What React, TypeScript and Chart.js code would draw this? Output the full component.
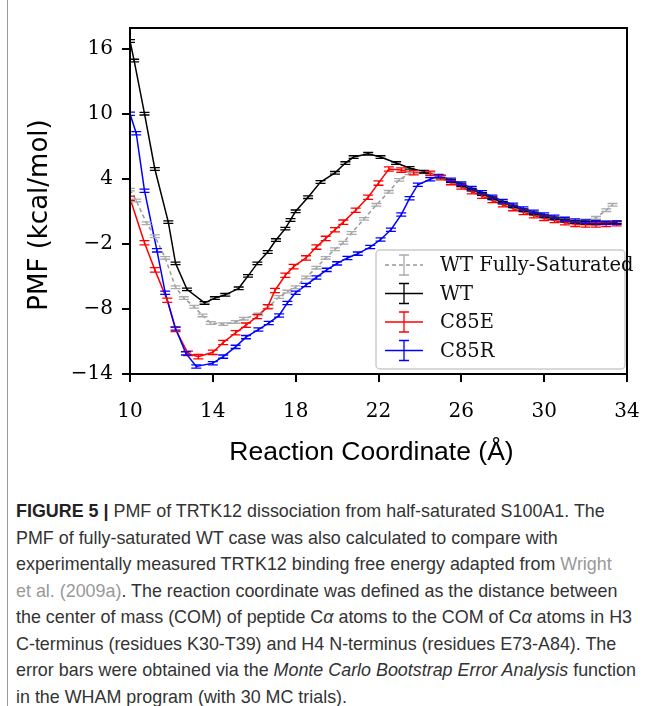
import React, { useEffect, useRef } from "react";
import { Chart, registerables } from "chart.js";
Chart.register(...registerables);

// ---- Data ----
const xTicks = [10, 14, 18, 22, 26, 30, 34];
const yTicks = [16, 10, 4, -2, -8, -14];

const xTitle = "Reaction Coordinate (\u00c5)";
const yTitle = "PMF (kcal/mol)";

const seriesNames = ["WT Fully-Saturated", "WT", "C85E", "C85R"];
const seriesColors = ["#999999", "#000000", "#ff0000", "#0000ff"];
const seriesErr = [0.12, 0.12, 0.2, 0.15];

const wtFullX = [10.0, 10.3, 10.8, 11.2, 11.7, 12.2, 12.6, 13.1, 13.5, 13.9, 14.5, 15.1, 15.5, 16.2, 16.7, 17.2, 17.6, 18.0, 18.5, 19.0, 19.45, 19.9, 20.3, 20.7, 21.3, 21.9, 22.5, 23.0, 23.5, 24.0, 24.5, 25.0, 25.5, 26.0, 26.5, 27.0, 27.5, 28.0, 28.5, 29.0, 29.5, 30.0, 30.5, 31.0, 31.5, 32.0, 32.5, 33.0, 33.3];
const wtFullY = [3.0, 2.0, -0.1, -1.3, -3.3, -6.0, -7.0, -7.8, -8.6, -9.3, -9.4, -9.2, -8.9, -8.5, -7.8, -6.9, -6.4, -6.0, -5.1, -4.2, -3.3, -2.5, -1.9, -1.0, 0.3, 1.6, 2.8, 3.9, 4.5, 4.6, 4.5, 4.15, 3.75, 3.4, 3.0, 2.6, 2.2, 1.8, 1.45, 1.1, 0.8, 0.55, 0.35, 0.2, 0.1, 0.15, 0.4, 1.1, 1.6];

const wtX = [10.0, 10.2, 10.7, 11.2, 11.85, 12.2, 12.75, 13.6, 14.1, 14.6, 15.25, 15.7, 16.15, 16.65, 17.05, 17.5, 17.75, 18.0, 18.6, 19.2, 19.9, 20.4, 20.8, 21.5, 22.1, 22.85, 23.5, 24.2, 25.0, 25.5, 26.0, 26.5, 27.0, 27.5, 28.0, 28.5, 29.0, 29.5, 30.0, 30.5, 31.0, 31.5, 32.0, 32.5, 33.0, 33.5];
const wtY = [16.7, 14.9, 10.0, 4.9, 0.0, -3.8, -6.2, -7.45, -7.0, -6.7, -6.1, -4.95, -3.8, -2.75, -1.65, -0.6, 0.2, 1.0, 2.3, 3.7, 4.55, 5.45, 6.0, 6.3, 6.0, 5.45, 5.0, 4.65, 4.2, 3.8, 3.4, 3.0, 2.6, 2.2, 1.8, 1.45, 1.1, 0.8, 0.55, 0.35, 0.15, 0.0, -0.05, -0.1, -0.05, 0.0];

const c85eX = [10.0, 10.7, 11.2, 11.8, 12.2, 12.8, 13.3, 14.0, 14.5, 15.1, 15.6, 16.15, 16.65, 17.0, 17.5, 17.9, 18.5, 19.0, 19.45, 19.9, 20.3, 20.9, 21.5, 22.0, 22.5, 23.1, 23.7, 24.5, 25.0, 25.5, 26.0, 26.5, 27.0, 27.5, 28.0, 28.5, 29.0, 29.5, 30.0, 30.5, 31.0, 31.5, 32.0, 32.5, 33.0, 33.5];
const c85eY = [2.2, -1.9, -4.4, -7.2, -9.9, -12.1, -12.4, -12.0, -11.1, -10.2, -9.5, -8.7, -7.8, -6.3, -4.9, -4.1, -3.3, -2.3, -1.5, -0.7, 0.0, 1.1, 2.3, 3.6, 4.9, 4.8, 4.55, 4.5, 4.1, 3.65, 3.25, 2.8, 2.4, 2.0, 1.6, 1.25, 0.9, 0.6, 0.35, 0.15, -0.05, -0.2, -0.25, -0.25, -0.2, -0.15];

const c85rX = [10.0, 10.3, 10.7, 11.3, 11.7, 12.2, 12.7, 13.2, 14.0, 14.5, 15.1, 15.6, 16.2, 16.7, 17.2, 17.6, 18.0, 18.5, 19.0, 19.5, 20.0, 20.5, 21.0, 21.6, 22.1, 22.6, 23.1, 23.5, 23.9, 24.5, 24.9, 25.5, 26.0, 26.5, 27.0, 27.5, 28.0, 28.5, 29.0, 29.5, 30.0, 30.5, 31.0, 31.5, 32.0, 32.5, 33.0, 33.5];
const c85rY = [10.0, 8.2, 2.9, -2.6, -6.5, -9.8, -12.1, -13.3, -13.0, -12.4, -11.5, -10.6, -9.9, -9.3, -8.6, -7.45, -6.5, -5.8, -5.1, -4.4, -3.8, -3.3, -2.9, -2.3, -1.6, -0.7, 0.7, 2.2, 3.45, 3.95, 4.25, 3.9, 3.55, 3.15, 2.75, 2.35, 1.95, 1.6, 1.25, 0.95, 0.7, 0.5, 0.3, 0.15, 0.05, 0.0, -0.05, -0.05];

const seriesX = [wtFullX, wtX, c85eX, c85rX];
const seriesY = [wtFullY, wtY, c85eY, c85rY];

const fmt = (v: number) => (v < 0 ? "\u2212" + Math.abs(v) : String(v));

const errorBarPlugin = {
  id: "errorbars",
  afterDatasetsDraw(chart: any) {
    const { ctx, chartArea } = chart;
    const xs = chart.scales.x;
    const ys = chart.scales.y;
    ctx.save();
    ctx.beginPath();
    ctx.rect(chartArea.left, chartArea.top, chartArea.right - chartArea.left, chartArea.bottom - chartArea.top);
    ctx.clip();
    chart.data.datasets.forEach((ds: any, i: number) => {
      const e = seriesErr[i];
      ctx.strokeStyle = ds.capColor;
      ctx.lineWidth = 1.3;
      ctx.setLineDash([]);
      ds.data.forEach((p: any) => {
        const px = xs.getPixelForValue(p.x);
        const y1 = ys.getPixelForValue(p.y - e);
        const y2 = ys.getPixelForValue(p.y + e);
        ctx.beginPath();
        ctx.moveTo(px, y1);
        ctx.lineTo(px, y2);
        ctx.moveTo(px - 5, y1);
        ctx.lineTo(px + 5, y1);
        ctx.moveTo(px - 5, y2);
        ctx.lineTo(px + 5, y2);
        ctx.stroke();
      });
    });
    ctx.restore();
  },
};

const framePlugin = {
  id: "frame",
  afterDraw(chart: any) {
    const { ctx, chartArea } = chart;
    ctx.save();
    ctx.strokeStyle = "#000";
    ctx.lineWidth = 2;
    ctx.setLineDash([]);
    ctx.strokeRect(chartArea.left, chartArea.top, chartArea.right - chartArea.left, chartArea.bottom - chartArea.top);

    // axis titles
    ctx.fillStyle = "#000";
    ctx.textAlign = "center";
    ctx.textBaseline = "middle";
    ctx.font = '26.5px "Liberation Sans"';
    ctx.fillText(xTitle, (chartArea.left + chartArea.right) / 2 - 7, chartArea.bottom + 79);
    ctx.save();
    ctx.translate(40, (chartArea.top + chartArea.bottom) / 2 + 14);
    ctx.rotate(-Math.PI / 2);
    ctx.font = '26px "DejaVu Sans"';
    ctx.fillText(yTitle, 0, 0);
    ctx.restore();

    // legend
    const w = 249;
    const h = 119;
    const bx = chartArea.right - w - 2;
    const by = chartArea.bottom - h - 5;
    ctx.beginPath();
    (ctx as any).roundRect(bx, by, w, h, 4);
    ctx.fillStyle = "rgba(255,255,255,0.85)";
    ctx.fill();
    ctx.strokeStyle = "#cccccc";
    ctx.lineWidth = 1.5;
    ctx.stroke();
    ctx.font = '19.5px "DejaVu Serif"';
    ctx.textBaseline = "middle";
    ctx.textAlign = "left";
    seriesNames.forEach((name, i) => {
      const cy = by + 15 + i * 28.5;
      const x0 = bx + 9;
      const x1 = x0 + 38;
      const xm = (x0 + x1) / 2;
      ctx.strokeStyle = seriesColors[i];
      ctx.lineWidth = 1.5;
      ctx.setLineDash(i === 0 ? [4, 3] : []);
      ctx.beginPath();
      ctx.moveTo(x0, cy);
      ctx.lineTo(x1, cy);
      ctx.stroke();
      ctx.setLineDash([]);
      ctx.strokeStyle = i === 0 ? "#aaaaaa" : seriesColors[i];
      ctx.lineWidth = 1.3;
      ctx.beginPath();
      ctx.moveTo(xm, cy - 10);
      ctx.lineTo(xm, cy + 10);
      ctx.moveTo(xm - 5, cy - 10);
      ctx.lineTo(xm + 5, cy - 10);
      ctx.moveTo(xm - 5, cy + 10);
      ctx.lineTo(xm + 5, cy + 10);
      ctx.stroke();
      ctx.fillStyle = "#111";
      ctx.fillText(name, bx + 64, cy + 1);
    });
    ctx.restore();
  },
};

export default function App() {
  const ref = useRef<HTMLCanvasElement | null>(null);

  useEffect(() => {
    if (!ref.current) return;
    const datasets = seriesNames.map((name, i) => ({
      label: name,
      data: seriesX[i].map((x, j) => ({ x, y: seriesY[i][j] })),
      borderColor: seriesColors[i],
      capColor: i === 0 ? "#aaaaaa" : seriesColors[i],
      borderWidth: 1.5,
      borderDash: i === 0 ? [4, 3] : [],
      pointRadius: 0,
      showLine: true,
      tension: 0,
      order: 3 - i,
    }));
    const chart = new Chart(ref.current, {
      type: "scatter",
      data: { datasets: datasets as any },
      options: {
        responsive: false,
        animation: false,
        layout: { padding: { left: 0, right: 28, top: 28, bottom: 0 } },
        plugins: { legend: { display: false }, tooltip: { enabled: false } },
        scales: {
          x: {
            type: "linear",
            min: 10,
            max: 34,
            afterBuildTicks: (s: any) => {
              s.ticks = xTicks.map((v) => ({ value: v }));
            },
            afterFit: (s: any) => {
              s.height = 106;
              s.paddingLeft = 0;
              s.paddingRight = 0;
            },
            grid: { display: true, drawOnChartArea: false, drawTicks: true, tickLength: 8, lineWidth: 2, color: "#000", tickColor: "#000" },
            border: { display: false },
            ticks: { color: "#000", font: { family: '"DejaVu Serif"', size: 20 }, padding: 18, maxRotation: 0, callback: (v: any) => fmt(Number(v)) },
            title: { display: false },
          },
          y: {
            type: "linear",
            min: -14,
            max: 17.9,
            afterBuildTicks: (s: any) => {
              s.ticks = yTicks.map((v) => ({ value: v }));
            },
            afterFit: (s: any) => {
              s.width = 130;
              s.paddingTop = 0;
              s.paddingBottom = 0;
            },
            grid: { display: true, drawOnChartArea: false, drawTicks: true, tickLength: 8, lineWidth: 2, color: "#000", tickColor: "#000" },
            border: { display: false },
            ticks: { color: "#000", font: { family: '"DejaVu Serif"', size: 20 }, padding: 9, callback: (v: any) => fmt(Number(v)) },
            title: { display: false },
          },
        },
      },
      plugins: [errorBarPlugin, framePlugin],
    });
    return () => chart.destroy();
  }, []);

  const line: React.CSSProperties = { whiteSpace: "nowrap" };
  return (
    <div style={{ position: "absolute", left: 0, top: 0, width: 655, height: 706, background: "#fff", overflow: "hidden" }}>
      <div style={{ position: "absolute", left: 7, top: 0, width: 1, height: 706, background: "#999" }} />
      <canvas ref={ref} width={655} height={480} style={{ position: "absolute", left: 0, top: 0, width: 655, height: 480 }} />
      <div
        style={{
          position: "absolute",
          left: 16,
          top: 498,
          width: 635,
          fontFamily: '"Liberation Sans", Arial, sans-serif',
          fontSize: 17.9,
          lineHeight: "26.5px",
          color: "#333",
        }}
      >
        <div style={line}><b style={{ color: "#222" }}>FIGURE 5 |</b> PMF of TRTK12 dissociation from half-saturated S100A1. The</div>
        <div style={line}>PMF of fully-saturated WT case was also calculated to compare with</div>
        <div style={line}>experimentally measured TRTK12 binding free energy adapted from <span style={{ color: "#999" }}>Wright</span></div>
        <div style={line}><span style={{ color: "#999" }}>et al. (2009a)</span>. The reaction coordinate was defined as the distance between</div>
        <div style={line}>the center of mass (COM) of peptide C<i>α</i> atoms to the COM of C<i>α</i> atoms in H3</div>
        <div style={line}>C-terminus (residues K30-T39) and H4 N-terminus (residues E73-A84). The</div>
        <div style={line}>error bars were obtained via the <i>Monte Carlo Bootstrap Error Analysis</i> function</div>
        <div style={line}>in the WHAM program (with 30 MC trials).</div>
      </div>
    </div>
  );
}
